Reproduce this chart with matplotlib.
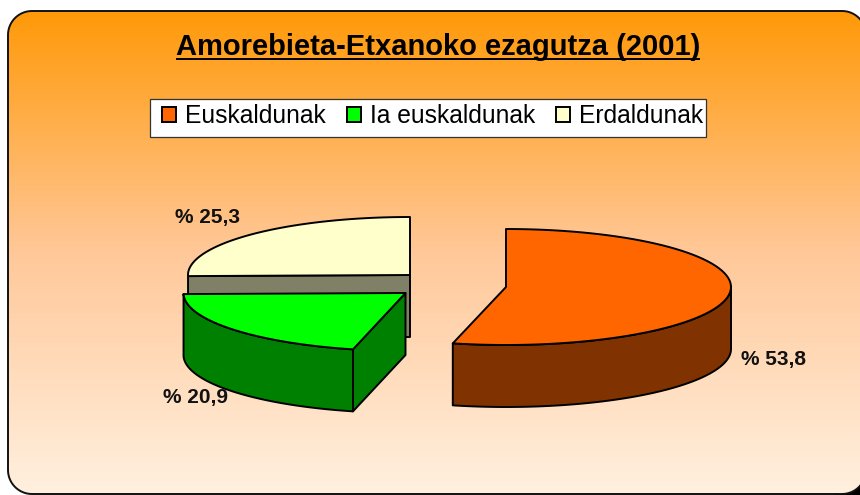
import numpy as np
import matplotlib
matplotlib.use('Agg')
import matplotlib.pyplot as plt
from matplotlib.colors import LinearSegmentedColormap
from matplotlib.patches import Patch, Polygon, Rectangle

# Data
title = 'Amorebieta-Etxanoko ezagutza (2001)'
categories = ['Euskaldunak', 'Ia euskaldunak', 'Erdaldunak']
shares = [53.8, 20.9, 25.3]

# Styles
top_colors = ['#FF6600', '#00FF00', '#FFFFCC']
side_colors = ['#803300', '#008000', '#808066']

# Layout, in pixels of the 860x495 picture
centers = [(506, 287), (405.5, 293), (410, 275)]
radii_x = [225, 222, 222]
radius_y = 58
depth = 62
label_pos = [(741, 360), (163, 398), (175, 217)]
line_w = 1.4

plt.rcParams['font.family'] = ['Liberation Sans', 'DejaVu Sans']

fig = plt.figure(figsize=(8.6, 4.95), dpi=100, facecolor='white')
ax = fig.add_axes([0, 0, 1, 1])
ax.set_xlim(0, 860)
ax.set_ylim(495, 0)
ax.axis('off')


def rounded_box(x0, y0, x1, y1, r):
    pts = []
    for cx, cy, a in [(x0 + r, y0 + r, 180), (x1 - r, y0 + r, 270), (x1 - r, y1 - r, 0), (x0 + r, y1 - r, 90)]:
        t = np.radians(np.linspace(a, a + 90, 20))
        pts.append(np.column_stack([cx + r * np.cos(t), cy + r * np.sin(t)]))
    return np.vstack(pts)


# Background box with the gradient
box_pts = rounded_box(8, 11, 866, 494, 24)
ax.add_patch(Rectangle((835, 470), 25, 25, facecolor='black', edgecolor='none', zorder=0))
white = Polygon(box_pts, closed=True, facecolor='white', edgecolor='none', zorder=0.5)
ax.add_patch(white)
ax.add_patch(Polygon(box_pts, closed=True, facecolor='none', edgecolor='#111111', linewidth=line_w, zorder=2))
cmap = LinearSegmentedColormap.from_list('bg', ['#FF9908', '#FFC899', '#FFF0DF'])
gradient = np.linspace(0, 1, 256).reshape(-1, 1)
im = ax.imshow(gradient, cmap=cmap, extent=(8, 866, 494, 11), aspect='auto', zorder=1)
im.set_clip_path(white)
ax.set_xlim(0, 860)
ax.set_ylim(495, 0)


def rim(center, rx, a, b):
    t = np.radians(np.linspace(a, b, 80))
    return np.column_stack([center[0] + rx * np.sin(t), center[1] - radius_y * np.cos(t)])


def face(points, color, z):
    ax.add_patch(Polygon(points, closed=True, facecolor=color, edgecolor='black',
                         linewidth=line_w, joinstyle='round', zorder=z))


# Slices, clockwise from 12 o'clock. Each one gets its own z range
start = 0
for i in range(len(shares)):
    end = start + shares[i] / sum(shares) * 360
    c = np.array(centers[i], dtype=float)
    rx = radii_x[i]
    z = {0: 5, 1: 4, 2: 3}[i]
    drop = np.array([0, depth])

    # cut faces that look at the viewer
    for ang, visible in [(start, np.sin(np.radians(start)) < -1e-6),
                         (end, np.sin(np.radians(end)) > 1e-6)]:
        if visible:
            p = rim(c, rx, ang, ang)[0]
            face([c, p, p + drop, c + drop], side_colors[i], z)

    # outer wall, only the front half shows
    a, b = max(start, 90), min(end, 270)
    if b - a > 2:
        r = rim(c, rx, a, b)
        face(np.vstack([r, (r + drop)[::-1]]), side_colors[i], z + 0.1)

    # top
    face(np.vstack([c, rim(c, rx, start, end)]), top_colors[i], z + 0.2)

    ax.text(label_pos[i][0], label_pos[i][1], f'% {shares[i]:.1f}'.replace('.', ','),
            fontsize=15, fontweight='bold', color='#111111', ha='left', va='center', zorder=8)
    start = end

# Title with its underline
ax.text(438, 55, title, fontsize=21, fontweight='bold', ha='center', va='baseline', zorder=8)
ax.plot([176, 700], [58.5, 58.5], color='black', linewidth=line_w, solid_capstyle='butt', zorder=8)

# Legend, the frame is drawn apart because its padding is not even
ax.add_patch(Rectangle((150, 99), 556, 38, facecolor='white', edgecolor='#333333', linewidth=0.9, zorder=7))
handles = [Patch(facecolor=top_colors[i], edgecolor='black', linewidth=line_w, label=categories[i])
           for i in range(len(categories))]
leg = ax.legend(handles=handles, loc='center left', bbox_to_anchor=(162, 116),
                bbox_transform=ax.transData, ncol=3, fontsize=17.7, frameon=False,
                handlelength=0.58, handleheight=0.6, handletextpad=0.36, columnspacing=0.84,
                borderpad=0, borderaxespad=0)
leg.set_zorder(8)

fig.savefig('out.png', dpi=100)
